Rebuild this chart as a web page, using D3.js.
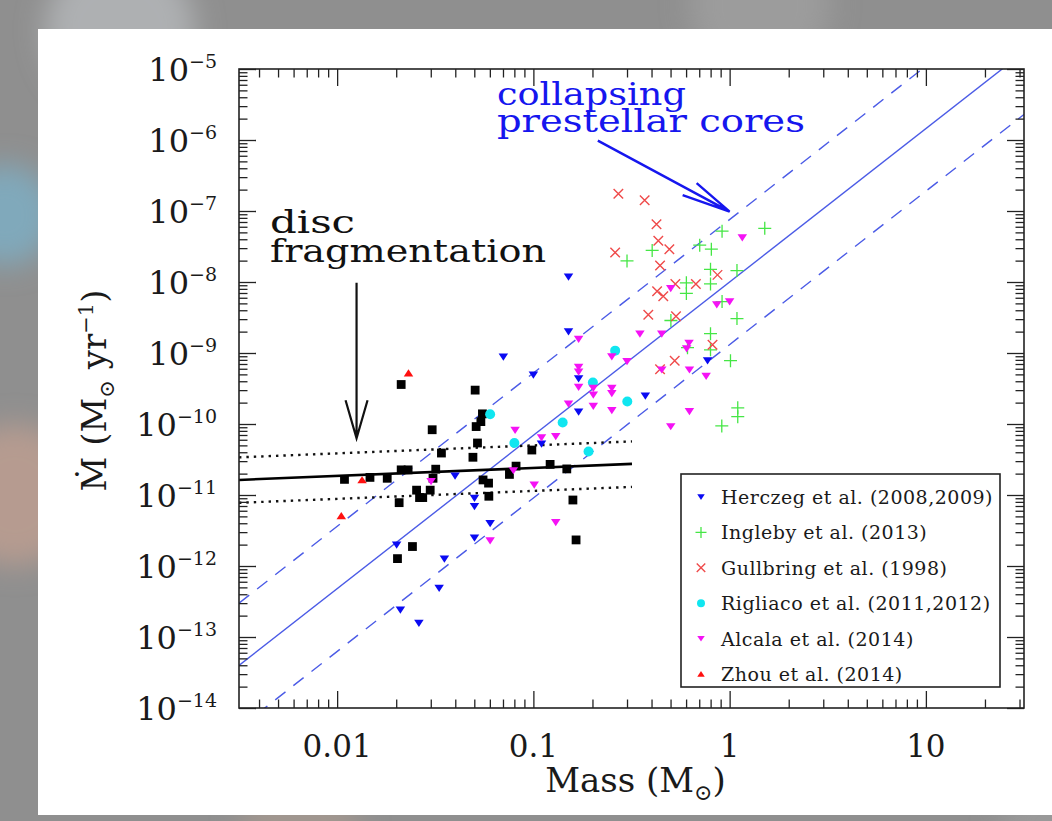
<!DOCTYPE html>
<html><head><meta charset="utf-8">
<script src="https://cdn.jsdelivr.net/npm/d3@7"></script>
<style>html,body{margin:0;padding:0;background:#8e8e8e;overflow:hidden}</style>
</head><body>
<svg id="chart" width="1052" height="821"></svg>
<script>
// ---------------- data ----------------
const xDomain = [0.003162, 31.62];
const yDomain = [1e-14, 1e-5];
const xTickValues = [0.01, 0.1, 1, 10];
const xTickLabels = ["0.01", "0.1", "1", "10"];
const yTickValues = [1e-5, 1e-6, 1e-7, 1e-8, 1e-9, 1e-10, 1e-11, 1e-12, 1e-13, 1e-14];
const yTickExponents = ["−5", "−6", "−7", "−8", "−9", "−10", "−11", "−12", "−13", "−14"];

// black squares (no legend entry)
const squareMass = [0.0212,0.0505,0.0550,0.0540,0.0511,0.0305,0.0519,0.0340,0.0492,0.0212,0.0230,0.0318,0.0109,0.0147,0.0180,0.0308,0.0554,0.0591,0.0254,0.0298,0.0263,0.0273,0.0207,0.0593,0.0755,0.0816,0.0242,0.0203,0.0982,0.1217,0.148,0.159,0.165];
const squareMdot = [3.6e-10,3.0e-10,1.39e-10,1.08e-10,9.2e-11,8.3e-11,5.4e-11,3.9e-11,3.4e-11,2.26e-11,2.26e-11,2.31e-11,1.66e-11,1.77e-11,1.72e-11,1.72e-11,1.63e-11,1.47e-11,1.17e-11,1.17e-11,9.2e-12,9.2e-12,7.8e-12,9.6e-12,1.95e-11,2.55e-11,1.88e-12,1.27e-12,4.3e-11,2.7e-11,2.33e-11,8.5e-12,2.33e-12];

const herczegMass = [0.151,0.151,0.0703,0.100,0.170,0.170,0.372,0.772,0.110,0.0399,0.0501,0.0501,0.0602,0.0501,0.0201,0.0352,0.0331,0.0210,0.0261];
const herczegMdot = [1.18e-8,1.99e-9,8.8e-10,4.9e-10,4.35e-10,1.48e-10,2.49e-10,7.8e-10,5.25e-11,1.86e-11,9.0e-12,6.9e-12,3.98e-12,2.49e-12,1.98e-12,1.26e-12,4.87e-13,2.41e-13,1.56e-13];

const inglebyMass = [0.915,1.51,0.704,0.403,0.807,0.300,0.799,1.09,0.602,0.799,0.602,0.915,1.09,0.502,0.799,0.610,0.799,1.01,1.10,1.10,0.912];
const inglebyMdot = [5.2e-8,5.7e-8,3.3e-8,2.78e-8,2.9e-8,1.98e-8,1.51e-8,1.45e-8,9.75e-9,9.4e-9,6.9e-9,5.3e-9,3.05e-9,2.87e-9,1.87e-9,1.19e-9,1.11e-9,7.8e-10,1.69e-10,1.27e-10,9.4e-11];

const gullbringMass = [0.271,0.369,0.424,0.433,0.493,0.261,0.442,0.867,0.529,0.673,0.427,0.459,0.385,0.533,0.818,0.525,0.442];
const gullbringMdot = [1.75e-7,1.42e-7,6.5e-8,3.8e-8,2.9e-8,2.6e-8,1.71e-8,1.26e-8,9.4e-9,9.4e-9,7.4e-9,6.3e-9,3.45e-9,3.3e-9,1.31e-9,7.8e-10,5.9e-10];

const rigliacoMass = [0.0602,0.080,0.141,0.191,0.201,0.261,0.301];
const rigliacoMdot = [1.37e-10,5.4e-11,1.05e-10,4.1e-11,3.83e-10,1.08e-9,2.07e-10];

const alcalaMass = [1.16,0.501,0.860,1.00,0.349,0.451,0.170,0.621,0.604,0.251,0.300,0.170,0.170,0.451,0.624,0.759,0.170,0.202,0.251,0.251,0.202,0.151,0.202,0.251,0.624,0.501,0.0807,0.110,0.130,0.0791,0.101,0.130,0.0602,0.0301];
const alcalaMdot = [4.2e-8,8.1e-9,4.8e-9,5.3e-9,1.85e-9,1.85e-9,1.57e-9,1.38e-9,1.15e-9,8.9e-10,7.6e-10,6.3e-10,5.4e-10,5.8e-10,5.8e-10,4.7e-10,3.3e-10,3.2e-10,3.2e-10,2.7e-10,2.57e-10,1.92e-10,1.78e-10,1.55e-10,1.50e-10,9.2e-11,8.2e-11,6.4e-11,6.7e-11,2.21e-11,1.39e-11,4.1e-12,2.28e-12,1.55e-11];

const zhouMass = [0.0231,0.0134,0.0105];
const zhouMdot = [5.2e-10,1.63e-11,5.1e-12];

// model lines (end points)
const coreLineMass = [0.003162, 31.62];
const coreMidMdot = [3.98e-14, 1.74e-5];
const coreHighMdot = [3.0e-13, 1.32e-4];
const coreLowMdot = [5.2e-15, 2.29e-6];
const discLineMass = [0.003162, 0.318];
const discMidMdot = [1.63e-11, 2.74e-11];
const discHighMdot = [3.39e-11, 5.69e-11];
const discLowMdot = [7.76e-12, 1.30e-11];

// annotation anchors
const discArrowMass = [0.01256, 0.01256];
const discArrowMdot = [9.75e-9, 6.3e-11];
const coreArrowMass = [0.213, 1.0];
const coreArrowMdot = [9.8e-7, 9.8e-8];

const legendLabels = ["Herczeg et al. (2008,2009)", "Ingleby et al. (2013)", "Gullbring et al. (1998)",
  "Rigliaco et al. (2011,2012)", "Alcala et al. (2014)", "Zhou et al. (2014)"];

// ---------------- layout ----------------
const W = 1052, H = 821;
const L = 239, R = 1024, T = 69, B = 708;
const FONT = "'DejaVu Serif', serif";

const x = d3.scaleLog().domain(xDomain).range([L, R]);
const y = d3.scaleLog().domain(yDomain).range([B, T]);

const svg = d3.select('#chart');
const defs = svg.append('defs');
defs.append('filter').attr('id', 'blur').attr('x', '-50%').attr('y', '-50%').attr('width', '200%').attr('height', '200%')
  .append('feGaussianBlur').attr('stdDeviation', 14);
defs.append('clipPath').attr('id', 'clip').append('rect')
  .attr('x', L).attr('y', T).attr('width', R - L).attr('height', B - T);

// background with soft bokeh
svg.append('rect').attr('width', W).attr('height', H).attr('fill', '#8f8f8f');
const bokeh = svg.append('g').attr('filter', 'url(#blur)');
[[120, 30, 75, '#aeb0b2'], [5, 215, 50, '#80a9bb'], [15, 495, 70, '#b69b90'], [300, 830, 60, '#a0968f'],
 [760, 5, 70, '#9c9c9c'], [1050, 830, 50, '#999']].forEach(b =>
  bokeh.append('circle').attr('cx', b[0]).attr('cy', b[1]).attr('r', b[2]).attr('fill', b[3]));

// white panel
svg.append('rect').attr('x', 38).attr('y', 29).attr('width', W - 38).attr('height', 786).attr('fill', '#ffffff');

// ---------------- lines ----------------
const lineGen = d3.line().x(d => x(d[0])).y(d => y(d[1]));
const lines = svg.append('g').attr('clip-path', 'url(#clip)');
const pair = (ms, ys) => ms.map((m, i) => [m, ys[i]]);
const blueLine = '#4b5be6';
lines.append('path').attr('d', lineGen(pair(coreLineMass, coreMidMdot))).attr('fill', 'none').attr('stroke', blueLine).attr('stroke-width', 1.4);
[coreHighMdot, coreLowMdot].forEach(arr =>
  lines.append('path').attr('d', lineGen(pair(coreLineMass, arr))).attr('fill', 'none').attr('stroke', blueLine)
    .attr('stroke-width', 1.4).attr('stroke-dasharray', '13 10'));
lines.append('path').attr('d', lineGen(pair(discLineMass, discMidMdot))).attr('fill', 'none').attr('stroke', '#000').attr('stroke-width', 2.6);
[discHighMdot, discLowMdot].forEach(arr =>
  lines.append('path').attr('d', lineGen(pair(discLineMass, arr))).attr('fill', 'none').attr('stroke', '#111')
    .attr('stroke-width', 2.4).attr('stroke-dasharray', '2.4 5'));

// ---------------- markers ----------------
const shapes = {
  square: (s) => `M${-s/2},${-s/2}h${s}v${s}h${-s}Z`,
  down: (s) => `M${-s/2},${-s*0.36}L${s/2},${-s*0.36}L0,${s*0.4}Z`,
  up: (s) => `M${-s/2},${s*0.36}L${s/2},${s*0.36}L0,${-s*0.4}Z`,
  plus: (s) => `M${-s/2},0H${s/2}M0,${-s/2}V${s/2}`,
  cross: (s) => `M${-s/2},${-s/2}L${s/2},${s/2}M${-s/2},${s/2}L${s/2},${-s/2}`,
  circle: (s) => d3.symbol(d3.symbolCircle, Math.PI * s * s / 4)()
};
const series = [
  {mass: squareMass, mdot: squareMdot, shape: 'square', size: 8.8, fill: '#000', stroke: null},
  {mass: herczegMass, mdot: herczegMdot, shape: 'down', size: 9.5, fill: '#0a0af2', stroke: null, legend: 0},
  {mass: inglebyMass, mdot: inglebyMdot, shape: 'plus', size: 13, fill: 'none', stroke: '#45e645', sw: 1.3, legend: 1},
  {mass: gullbringMass, mdot: gullbringMdot, shape: 'cross', size: 9.5, fill: 'none', stroke: '#ef4a4a', sw: 1.4, legend: 2},
  {mass: rigliacoMass, mdot: rigliacoMdot, shape: 'circle', size: 10, fill: '#10e6f0', stroke: null, legend: 3},
  {mass: alcalaMass, mdot: alcalaMdot, shape: 'down', size: 9.5, fill: '#f512f5', stroke: null, legend: 4},
  {mass: zhouMass, mdot: zhouMdot, shape: 'up', size: 9.5, fill: '#ff1010', stroke: null, legend: 5}
];
const pts = svg.append('g').attr('clip-path', 'url(#clip)');
series.forEach(s => {
  pts.append('g').selectAll('path').data(pair(s.mass, s.mdot)).join('path')
    .attr('transform', d => `translate(${x(d[0])},${y(d[1])})`)
    .attr('d', shapes[s.shape](s.size))
    .attr('fill', s.fill).attr('stroke', s.stroke || 'none').attr('stroke-width', s.sw || 0);
});

// ---------------- axes ----------------
const isMajor = (v, majors) => majors.some(m => Math.abs(m - v) / m < 1e-6);
const xMinor = x.ticks().filter(v => !isMajor(v, xTickValues));
const yMinor = y.ticks().filter(v => !isMajor(v, yTickValues));
const axisStyle = g => { g.select('.domain').remove(); g.selectAll('line').attr('stroke', '#222').attr('stroke-width', 1.3); };
const addAxis = (axisFn, scale, tr, vals, size) =>
  svg.append('g').attr('transform', tr)
    .call(axisFn(scale).tickValues(vals).tickSize(size).tickFormat(''))
    .call(axisStyle);
addAxis(d3.axisTop, x, `translate(0,${B})`, xTickValues, 17);
addAxis(d3.axisTop, x, `translate(0,${B})`, xMinor, 8.5);
addAxis(d3.axisBottom, x, `translate(0,${T})`, xTickValues, 17);
addAxis(d3.axisBottom, x, `translate(0,${T})`, xMinor, 8.5);
addAxis(d3.axisRight, y, `translate(${L},0)`, yTickValues, 17);
addAxis(d3.axisRight, y, `translate(${L},0)`, yMinor, 8.5);
addAxis(d3.axisLeft, y, `translate(${R},0)`, yTickValues, 17);
addAxis(d3.axisLeft, y, `translate(${R},0)`, yMinor, 8.5);
svg.append('rect').attr('x', L).attr('y', T).attr('width', R - L).attr('height', B - T)
  .attr('fill', 'none').attr('stroke', '#222').attr('stroke-width', 1.6);

// tick labels
svg.append('g').selectAll('text').data(xTickValues).join('text')
  .attr('x', d => x(d)).attr('y', 757).attr('text-anchor', 'middle')
  .attr('font-family', FONT).attr('font-size', 31).attr('fill', '#1a1a1a')
  .text((d, i) => xTickLabels[i]);
const yl = svg.append('g').selectAll('text').data(yTickValues).join('text')
  .attr('x', 217).attr('y', d => y(d) + 12).attr('text-anchor', 'end')
  .attr('font-family', FONT).attr('font-size', 32).attr('fill', '#1a1a1a');
yl.append('tspan').text('10');
yl.append('tspan').attr('dy', -13).attr('font-size', 19).text((d, i) => yTickExponents[i]);

// axis titles
const xt = svg.append('text').attr('x', (L + R) / 2 + 4).attr('y', 792).attr('text-anchor', 'middle')
  .attr('font-family', FONT).attr('font-size', 34).attr('fill', '#1a1a1a');
xt.append('tspan').text('Mass (M');
xt.append('tspan').attr('font-size', 22).attr('dy', 8).text('⊙');
xt.append('tspan').attr('dy', -8).text(')');

const yt = svg.append('text').attr('transform', `translate(106,${(T + B) / 2 + 2}) rotate(-90)`).attr('text-anchor', 'middle')
  .attr('font-family', FONT).attr('font-size', 34).attr('fill', '#1a1a1a');
yt.append('tspan').text('Ṁ (M');
yt.append('tspan').attr('font-size', 21).attr('dy', 8).text('⊙');
yt.append('tspan').attr('dy', -8).text(' yr');
yt.append('tspan').attr('font-size', 21).attr('dy', -13).text('−1');
yt.append('tspan').attr('dy', 13).text(')');

// ---------------- annotations ----------------
const ann = svg.append('g');
const annText = (m, v, len, txt, col) => ann.append('text').attr('x', x(m)).attr('y', y(v))
  .attr('font-family', FONT).attr('font-size', 32).attr('fill', col)
  .attr('textLength', len).attr('lengthAdjust', 'spacingAndGlyphs').text(txt);
annText(0.00455, 4.93e-8, 85, 'disc', '#111');
annText(0.00455, 1.93e-8, 276, 'fragmentation', '#111');
const coreBlue = '#1616ee';
annText(0.0652, 3.14e-6, 189, 'collapsing', coreBlue);
annText(0.0652, 1.31e-6, 308, 'prestellar cores', coreBlue);

// disc arrow
const dx0 = x(discArrowMass[0]), dy0 = y(discArrowMdot[0]), dy1 = y(discArrowMdot[1]);
ann.append('path').attr('d', `M${dx0},${dy0}V${dy1}M${dx0 - 11},${dy1 - 38}L${dx0},${dy1}L${dx0 + 11},${dy1 - 38}`)
  .attr('fill', 'none').attr('stroke', '#111').attr('stroke-width', 2.2);
// core arrow
const cx0 = x(coreArrowMass[0]), cy0 = y(coreArrowMdot[0]), cx1 = x(coreArrowMass[1]), cy1 = y(coreArrowMdot[1]);
ann.append('path').attr('d', `M${cx0},${cy0}L${cx1},${cy1}M${cx1 - 47},${cy1 - 16.5}L${cx1},${cy1}L${cx1 - 33},${cy1 - 28.5}`)
  .attr('fill', 'none').attr('stroke', coreBlue).attr('stroke-width', 2.4);

// ---------------- legend ----------------
const lg = svg.append('g');
lg.append('rect').attr('x', 681).attr('y', 474).attr('width', 319).attr('height', 213)
  .attr('fill', '#fff').attr('stroke', '#222').attr('stroke-width', 1.6);
const legendSeries = series.filter(s => s.legend !== undefined);
legendSeries.forEach((s, i) => {
  const ry = 497 + i * 35.4;
  const small = s.shape === 'plus' ? 11 : s.shape === 'circle' ? 8 : s.shape === 'cross' ? 8.5 : 7.5;
  lg.append('path').attr('transform', `translate(701,${ry})`).attr('d', shapes[s.shape](small))
    .attr('fill', s.fill).attr('stroke', s.stroke || 'none').attr('stroke-width', s.sw || 0);
  lg.append('text').attr('x', 721).attr('y', ry + 7).attr('font-family', FONT).attr('font-size', 19)
    .attr('letter-spacing', 0.5).attr('fill', '#1a1a1a').text(legendLabels[s.legend]);
});
</script>
</body></html>
